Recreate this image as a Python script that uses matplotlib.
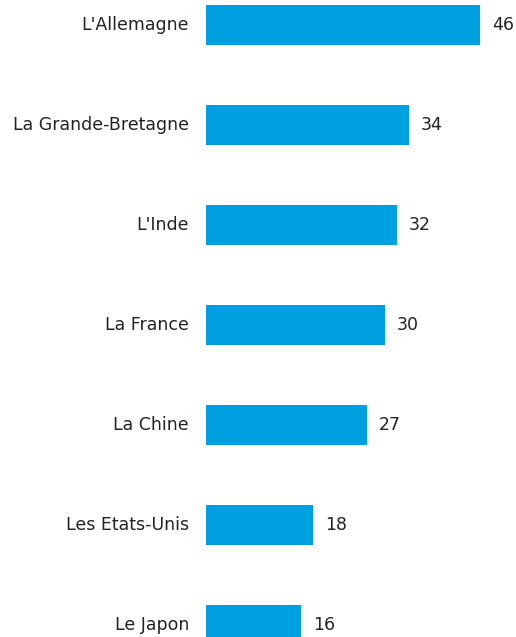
import matplotlib
matplotlib.use("Agg")
import matplotlib.pyplot as plt
from matplotlib.transforms import offset_copy

categories = ["L'Allemagne", "La Grande-Bretagne", "L'Inde", "La France",
              "La Chine", "Les Etats-Unis", "Le Japon"]
values = [46, 34, 32, 30, 27, 18, 16]

W, H = 516, 637
fig = plt.figure(figsize=(W / 100, H / 100), dpi=100)
left_px = 206
px_per_unit = 5.96
ax = fig.add_axes([left_px / W, 0, 1 - left_px / W, 1])
ax.set_xlim(0, (W - left_px) / px_per_unit)
ax.set_ylim(-0.25 + H / 100, -0.25)
ax.axis("off")

color = "#009FE0"
ypos = list(range(len(categories)))
ax.barh(ypos, values, height=0.4, color=color)

fs = 12.5
for y, cat, v in zip(ypos, categories, values):
    t1 = offset_copy(ax.transData, fig=fig, x=-17, y=0, units="dots")
    ax.text(0, y, cat, transform=t1, ha="right", va="center",
            fontsize=fs, color="#222222", clip_on=False)
    t2 = offset_copy(ax.transData, fig=fig, x=12, y=0, units="dots")
    ax.text(v, y, str(v), transform=t2, ha="left", va="center",
            fontsize=fs, color="#222222", clip_on=False)

fig.savefig("out.png", dpi=100)
